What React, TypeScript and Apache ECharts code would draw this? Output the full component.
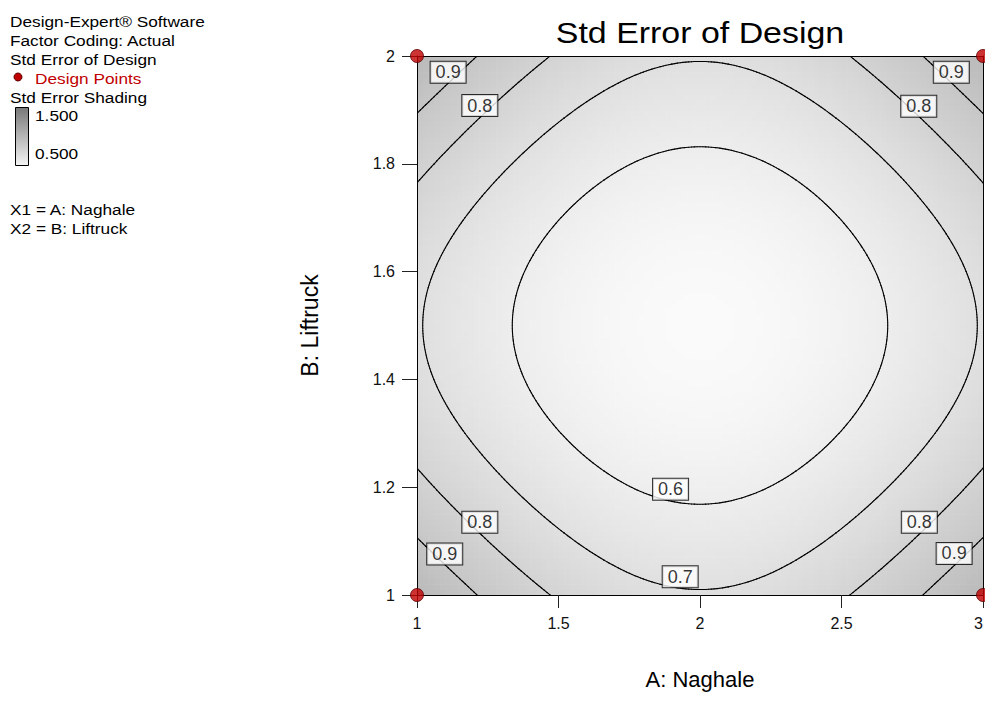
import React, { useEffect, useRef } from "react";
import * as echarts from "echarts";

// ---- data ----
const designA = [1, 1, 3, 3];
const designB = [1, 2, 1, 2];
const contourLevels = [0.6, 0.7, 0.8, 0.9];
const labelX = [1.11, 1.222, 2.888, 2.773, 1.222, 1.098, 2.775, 2.898, 1.896, 1.93];
const labelY = [1.97, 1.908, 1.97, 1.907, 1.135, 1.076, 1.135, 1.077, 1.196, 1.034];
const labelText = ["0.9", "0.8", "0.9", "0.8", "0.8", "0.9", "0.8", "0.9", "0.6", "0.7"];
const xRange = [1, 3];
const yRange = [1, 2];
const shadeRange = [0.5, 1.5];
const legendLines = ["Design-Expert® Software", "Factor Coding: Actual", "Std Error of Design"];
const shadeLabels = ["1.500", "0.500"];
const factorLines = ["X1 = A: Naghale", "X2 = B: Liftruck"];

const FONT = '"Liberation Sans", Arial, Helvetica, sans-serif';

// ---- design standard error (2FI model from design points) ----
const cA = (Math.min(...designA) + Math.max(...designA)) / 2;
const hA = (Math.max(...designA) - Math.min(...designA)) / 2;
const cB = (Math.min(...designB) + Math.max(...designB)) / 2;
const hB = (Math.max(...designB) - Math.min(...designB)) / 2;
const terms = (x: number, y: number) => {
  const a = (x - cA) / hA;
  const b = (y - cB) / hB;
  return [1, a, b, a * b];
};
function invert(m: number[][]) {
  const n = m.length;
  const A = m.map((r, i) => [...r, ...r.map((_, j) => (i === j ? 1 : 0))]);
  for (let c = 0; c < n; c++) {
    let p = c;
    for (let r = c + 1; r < n; r++) if (Math.abs(A[r][c]) > Math.abs(A[p][c])) p = r;
    [A[c], A[p]] = [A[p], A[c]];
    const d = A[c][c];
    for (let j = 0; j < 2 * n; j++) A[c][j] /= d;
    for (let r = 0; r < n; r++) {
      if (r === c) continue;
      const f = A[r][c];
      for (let j = 0; j < 2 * n; j++) A[r][j] -= f * A[c][j];
    }
  }
  return A.map((r) => r.slice(n));
}
const XtX: number[][] = [0, 1, 2, 3].map(() => [0, 0, 0, 0]);
designA.forEach((x, k) => {
  const f = terms(x, designB[k]);
  for (let i = 0; i < 4; i++) for (let j = 0; j < 4; j++) XtX[i][j] += f[i] * f[j];
});
const Minv = invert(XtX);
const stdErr = (x: number, y: number) => {
  const f = terms(x, y);
  let s = 0;
  for (let i = 0; i < 4; i++) for (let j = 0; j < 4; j++) s += f[i] * Minv[i][j] * f[j];
  return Math.sqrt(s);
};

// shading cells
const NC = 100;
const cells: number[][] = [];
for (let i = 0; i < NC; i++) {
  for (let j = 0; j < NC; j++) {
    const x0 = xRange[0] + ((xRange[1] - xRange[0]) * i) / NC;
    const x1 = xRange[0] + ((xRange[1] - xRange[0]) * (i + 1)) / NC;
    const y0 = yRange[0] + ((yRange[1] - yRange[0]) * j) / NC;
    const y1 = yRange[0] + ((yRange[1] - yRange[0]) * (j + 1)) / NC;
    cells.push([x0, y0, x1, y1, stdErr((x0 + x1) / 2, (y0 + y1) / 2)]);
  }
}

// contour segments via marching squares
const NS = 200;
const gx = (i: number) => xRange[0] + ((xRange[1] - xRange[0]) * i) / NS;
const gy = (j: number) => yRange[0] + ((yRange[1] - yRange[0]) * j) / NS;
const G: number[][] = [];
for (let i = 0; i <= NS; i++) {
  G.push([]);
  for (let j = 0; j <= NS; j++) G[i].push(stdErr(gx(i), gy(j)));
}
const segments: number[][] = [];
contourLevels.forEach((L) => {
  for (let i = 0; i < NS; i++) {
    for (let j = 0; j < NS; j++) {
      const corners = [
        [gx(i), gy(j), G[i][j]],
        [gx(i + 1), gy(j), G[i + 1][j]],
        [gx(i + 1), gy(j + 1), G[i + 1][j + 1]],
        [gx(i), gy(j + 1), G[i][j + 1]],
      ];
      const pts: number[][] = [];
      for (let e = 0; e < 4; e++) {
        const p = corners[e];
        const q = corners[(e + 1) % 4];
        if ((p[2] - L) * (q[2] - L) < 0) {
          const t = (L - p[2]) / (q[2] - p[2]);
          pts.push([p[0] + t * (q[0] - p[0]), p[1] + t * (q[1] - p[1])]);
        }
      }
      if (pts.length >= 2) segments.push([pts[0][0], pts[0][1], pts[1][0], pts[1][1]]);
      if (pts.length === 4) segments.push([pts[2][0], pts[2][1], pts[3][0], pts[3][1]]);
    }
  }
});

const LIGHT = 250;
const DARK = 120;

export default function App() {
  const ref = useRef<HTMLDivElement>(null);
  useEffect(() => {
    if (!ref.current) return;
    const chart = echarts.init(ref.current, undefined, { renderer: "svg" });
    const axisCommon = {
      type: "value" as const,
      splitLine: { show: false },
      z: 5,
    };
    const graphics: any[] = [];
    legendLines.forEach((t, i) => {
      graphics.push({
        type: "text",
        x: 10,
        y: 21 + i * 19.2,
        scaleX: 1.15,
        style: { text: t, fontSize: 15, fontFamily: FONT, fill: "#000", verticalAlign: "middle" },
      });
    });
    graphics.push({
      type: "circle",
      shape: { cx: 18, cy: 77, r: 4 },
      style: { fill: "#c00000", stroke: "#600000", lineWidth: 1 },
    });
    graphics.push({
      type: "text",
      x: 35,
      y: 78,
      scaleX: 1.15,
      style: { text: "Design Points", fontSize: 15, fontFamily: FONT, fill: "#c00000", verticalAlign: "middle" },
    });
    graphics.push({
      type: "text",
      x: 10,
      y: 97,
      scaleX: 1.15,
      style: { text: "Std Error Shading", fontSize: 15, fontFamily: FONT, fill: "#000", verticalAlign: "middle" },
    });
    graphics.push({
      type: "rect",
      shape: { x: 15.5, y: 107.5, width: 13, height: 58 },
      style: {
        stroke: "#000",
        lineWidth: 1,
        fill: new echarts.graphic.LinearGradient(0, 0, 0, 1, [
          { offset: 0, color: `rgb(${DARK},${DARK},${DARK})` },
          { offset: 1, color: `rgb(${LIGHT - 6},${LIGHT - 6},${LIGHT - 6})` },
        ]),
      },
    });
    shadeLabels.forEach((t, i) => {
      graphics.push({
        type: "text",
        x: 35,
        y: i === 0 ? 115 : 153,
        scaleX: 1.15,
        style: { text: t, fontSize: 15, fontFamily: FONT, fill: "#000", verticalAlign: "middle" },
      });
    });
    factorLines.forEach((t, i) => {
      graphics.push({
        type: "text",
        x: 10,
        y: 209 + i * 19,
        scaleX: 1.15,
        style: { text: t, fontSize: 15, fontFamily: FONT, fill: "#000", verticalAlign: "middle" },
      });
    });
    graphics.push({
      type: "text",
      x: 700,
      y: 33,
      scaleX: 1.17,
      style: {
        text: "Std Error of Design",
        fontSize: 29,
        fontFamily: FONT,
        fill: "#000",
        align: "center",
        verticalAlign: "middle",
      },
    });

    chart.setOption({
      animation: false,
      backgroundColor: "#fff",
      textStyle: { fontFamily: FONT },
      grid: { left: 417, top: 56, right: 2, bottom: 113, containLabel: false, outerBoundsMode: "none" },
      xAxis: [
        {
          ...axisCommon,
          min: xRange[0],
          max: xRange[1],
          interval: 0.5,
          position: "bottom",
          name: "A: Naghale",
          nameLocation: "middle",
          nameGap: 73,
          nameTextStyle: { fontSize: 22, color: "#000", fontFamily: FONT },
          axisLine: { show: true, lineStyle: { color: "#000", width: 1 } },
          axisTick: { show: true, length: 13, lineStyle: { color: "#222" } },
          axisLabel: { fontSize: 16, color: "#111", margin: 20, fontFamily: FONT, alignMaxLabel: "right" },
        },
        {
          ...axisCommon,
          min: xRange[0],
          max: xRange[1],
          position: "top",
          axisLine: { show: true, lineStyle: { color: "#000", width: 1 } },
          axisTick: { show: false },
          axisLabel: { show: false },
        },
      ],
      yAxis: [
        {
          ...axisCommon,
          min: yRange[0],
          max: yRange[1],
          interval: 0.2,
          position: "left",
          name: "B: Liftruck",
          nameLocation: "middle",
          nameGap: 96,
          nameRotate: 90,
          nameTextStyle: { fontSize: 23, color: "#000", fontFamily: FONT },
          axisLine: { show: true, lineStyle: { color: "#000", width: 1 } },
          axisTick: { show: true, length: 15, lineStyle: { color: "#222" } },
          axisLabel: { fontSize: 16, color: "#111", margin: 22, fontFamily: FONT },
        },
        {
          ...axisCommon,
          min: yRange[0],
          max: yRange[1],
          position: "right",
          axisLine: { show: true, lineStyle: { color: "#000", width: 1 } },
          axisTick: { show: false },
          axisLabel: { show: false },
        },
      ],
      graphic: graphics,
      series: [
        {
          type: "custom",
          name: "shade",
          data: cells,
          clip: true,
          progressive: 0,
          silent: true,
          z: 1,
          encode: { x: [0, 2], y: [1, 3] },
          renderItem: (params: any, api: any) => {
            const p0 = api.coord([api.value(0), api.value(3)]);
            const p1 = api.coord([api.value(2), api.value(1)]);
            const v = api.value(4);
            const t = Math.min(1, Math.max(0, (v - shadeRange[0]) / (shadeRange[1] - shadeRange[0])));
            const g = Math.round(LIGHT + (DARK - LIGHT) * t);
            return {
              type: "rect",
              shape: { x: p0[0], y: p0[1], width: p1[0] - p0[0] + 0.6, height: p1[1] - p0[1] + 0.6 },
              style: { fill: `rgb(${g},${g},${g})` },
            };
          },
        },
        {
          type: "custom",
          name: "contours",
          data: segments,
          clip: true,
          progressive: 0,
          silent: true,
          z: 3,
          encode: { x: [0, 2], y: [1, 3] },
          renderItem: (params: any, api: any) => {
            const p = api.coord([api.value(0), api.value(1)]);
            const q = api.coord([api.value(2), api.value(3)]);
            return {
              type: "line",
              shape: { x1: p[0], y1: p[1], x2: q[0], y2: q[1] },
              style: { stroke: "#000", lineWidth: 1.1, lineCap: "round" },
            };
          },
        },
        {
          type: "scatter",
          name: "labels",
          z: 6,
          symbolSize: 1,
          itemStyle: { color: "rgba(0,0,0,0)" },
          silent: true,
          data: labelX.map((x, i) => ({ value: [x, labelY[i]], name: labelText[i] })),
          label: {
            show: true,
            position: "inside",
            formatter: "{b}",
            fontSize: 18,
            fontFamily: FONT,
            color: "#000",
            backgroundColor: "#fff",
            borderColor: "#000",
            borderWidth: 1,
            padding: [1, 5, 1, 5],
            lineHeight: 19,
          },
        },
        {
          type: "scatter",
          name: "Design Points",
          z: 10,
          clip: false,
          symbol: "circle",
          symbolSize: 13,
          itemStyle: { color: "#c00000", borderColor: "#5a0000", borderWidth: 1 },
          data: designA.map((a, i) => [a, designB[i]]),
        },
      ],
    });
    return () => chart.dispose();
  }, []);
  return <div ref={ref} style={{ position: "fixed", left: 0, top: 0, width: 985, height: 708 }} />;
}
